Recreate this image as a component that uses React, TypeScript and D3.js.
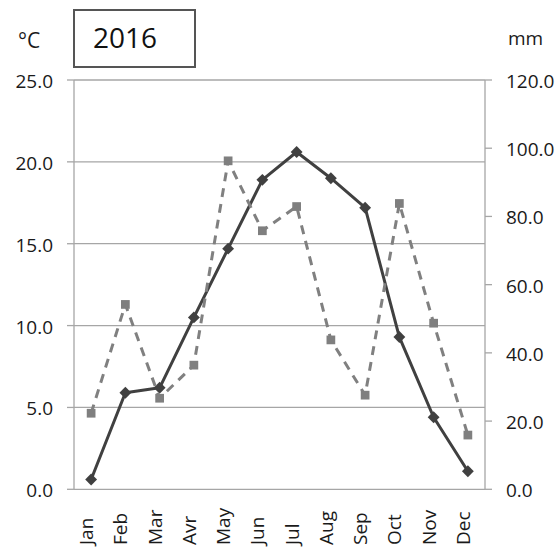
import React from "react";
import * as d3 from "d3";

// Monthly climate series, 2016
const months = ["Jan", "Feb", "Mar", "Avr", "May", "Jun", "Jul", "Aug", "Sep", "Oct", "Nov", "Dec"];
const temperature = [0.6, 5.9, 6.2, 10.5, 14.7, 18.9, 20.6, 19.0, 17.2, 9.3, 4.4, 1.1];
const precipitation = [22.3, 54.2, 26.7, 36.4, 96.3, 75.8, 82.9, 43.8, 27.6, 83.8, 48.7, 15.9];
const tempTicks = [0, 5, 10, 15, 20, 25];
const precipTicks = [0, 20, 40, 60, 80, 100, 120];
const title = "2016";
const leftUnit = "°C";
const rightUnit = "mm";

const W = 559;
const H = 547;
const plot = { left: 74, right: 485, top: 80, bottom: 489.3 };
const FONT = "'Open Sans', 'Noto Sans', sans-serif";
const AXIS = "#a6a6a6";

export default function App() {
  const x = d3
    .scaleBand<string>()
    .domain(months)
    .range([plot.left, plot.right]);
  const cx = (m: string) => (x(m) ?? 0) + x.bandwidth() / 2;
  const yT = d3.scaleLinear().domain([0, 25]).range([plot.bottom, plot.top]);
  const yP = d3.scaleLinear().domain([0, 120]).range([plot.bottom, plot.top]);

  const tempLine = d3
    .line<number>()
    .x((_, i) => cx(months[i]))
    .y((d) => yT(d))(temperature);
  const precipLine = d3
    .line<number>()
    .x((_, i) => cx(months[i]))
    .y((d) => yP(d))(precipitation);

  const diamond = d3.symbol(d3.symbolDiamond2, 90)();
  const square = d3.symbol(d3.symbolSquare, 76)();

  return (
    <svg
      width={W}
      height={H}
      style={{ position: "absolute", left: 0, top: 0, background: "#fff" }}
      fontFamily={FONT}
    >
      <rect x={0} y={0} width={W} height={H} fill="#fff" />

      {/* horizontal gridlines */}
      {tempTicks.slice(1).map((t) => (
        <line key={t} x1={plot.left} x2={plot.right} y1={yT(t)} y2={yT(t)} stroke={AXIS} strokeWidth={1.3} />
      ))}

      {/* left axis */}
      <line x1={plot.left} x2={plot.left} y1={plot.top} y2={plot.bottom} stroke={AXIS} strokeWidth={1.3} />
      {tempTicks.map((t) => (
        <g key={t}>
          <line x1={plot.left - 7} x2={plot.left} y1={yT(t)} y2={yT(t)} stroke={AXIS} strokeWidth={1.3} />
          <text x={53} y={yT(t)} dy="0.42em" textAnchor="end" fontSize={19} fill="#1a1a1a">
            {t.toFixed(1)}
          </text>
        </g>
      ))}

      {/* right axis */}
      <line x1={plot.right} x2={plot.right} y1={plot.top} y2={plot.bottom} stroke={AXIS} strokeWidth={1.3} />
      {precipTicks.map((t) => (
        <g key={t}>
          <line x1={plot.right} x2={plot.right + 7} y1={yP(t)} y2={yP(t)} stroke={AXIS} strokeWidth={1.3} />
          <text x={506} y={yP(t)} dy="0.42em" textAnchor="start" fontSize={19} fill="#1a1a1a">
            {t.toFixed(1)}
          </text>
        </g>
      ))}

      {/* bottom axis */}
      <line x1={plot.left} x2={plot.right} y1={plot.bottom} y2={plot.bottom} stroke={AXIS} strokeWidth={1.3} />
      {months.map((m) => (
        <text
          key={m}
          transform={`translate(${cx(m) + 2},545) rotate(-90)`}
          textAnchor="start"
          fontSize={19}
          fill="#1a1a1a"
        >
          {m}
        </text>
      ))}

      {/* temperature series */}
      <path d={tempLine ?? ""} fill="none" stroke="#404040" strokeWidth={3} strokeLinejoin="round" />
      {temperature.map((v, i) => (
        <path key={i} d={diamond ?? ""} transform={`translate(${cx(months[i])},${yT(v)})`} fill="#404040" />
      ))}

      {/* precipitation series */}
      <path
        d={precipLine ?? ""}
        fill="none"
        stroke="#808080"
        strokeWidth={3}
        strokeDasharray="9,7"
        strokeLinejoin="round"
      />
      {precipitation.map((v, i) => (
        <path key={i} d={square ?? ""} transform={`translate(${cx(months[i])},${yP(v)})`} fill="#7f7f7f" />
      ))}

      {/* unit labels and title box */}
      <text x={18} y={48} fontSize={21} fill="#1a1a1a">
        {leftUnit}
      </text>
      <text x={508} y={45} fontSize={19} fill="#1a1a1a">
        {rightUnit}
      </text>
      <rect x={74} y={10} width={121} height={57} fill="#fff" stroke="#555" strokeWidth={2} />
      <text x={93} y={48} fontSize={28} fill="#111">
        {title}
      </text>
    </svg>
  );
}
